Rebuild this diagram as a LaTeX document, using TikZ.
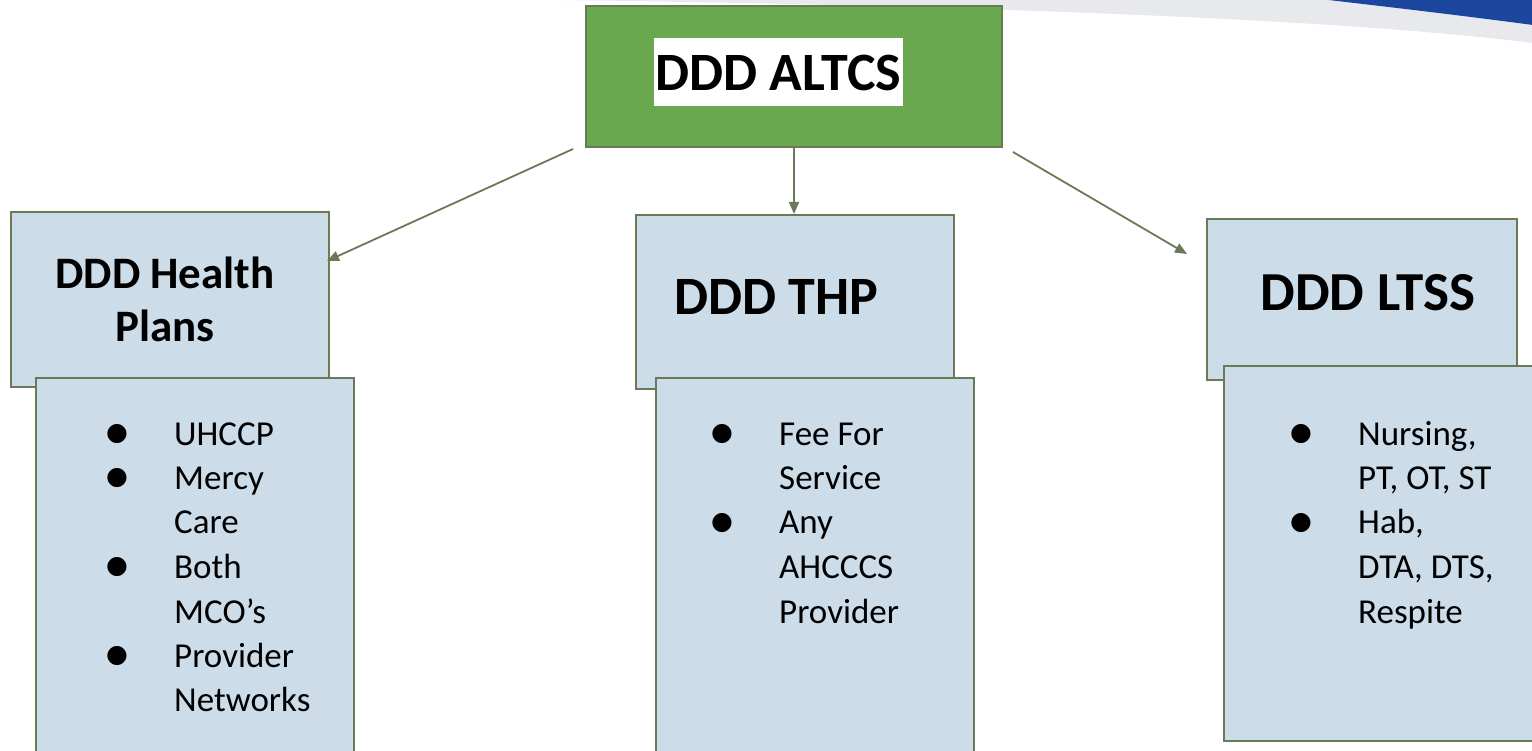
\documentclass[tikz,border=0pt]{standalone}
\usepackage{fontspec}
\setmainfont{Carlito}
\newfontfamily\dotfont{DejaVu Sans}
\usetikzlibrary{arrows.meta}

\definecolor{altcsgreen}{RGB}{106,168,79}
\definecolor{panelblue}{RGB}{204,221,233}
\definecolor{edgegreen}{RGB}{107,122,86}
\definecolor{bannerblue}{RGB}{26,70,158}
\definecolor{bannergray}{RGB}{232,233,236}

\newcommand{\itemdot}{\makebox[68pt][l]{\raisebox{5pt}{\dotfont\fontsize{25}{25}\selectfont ●}}}

\tikzset{
  panel/.style={draw=edgegreen, line width=2pt, fill=panelblue, anchor=north west, inner sep=0pt},
  link/.style={draw=edgegreen, line width=1.8pt, -{Triangle[length=12pt,width=10pt]}},
  heading/.style 2 args={font=\bfseries\fontsize{#1}{#2}\selectfont, align=center, inner sep=0pt, anchor=base},
  items/.style={font=\fontsize{35}{44.5}\selectfont, anchor=base west, inner sep=0pt},
}

\begin{document}
\begin{tikzpicture}[x=1pt,y=-1pt]
    \useasboundingbox (0,0) rectangle (1532,751);
    \clip (0,0) rectangle (1532,751);

    % banner corner, top right
    \fill[bannergray] (560,-1) -- (1533,-1) -- (1533,43) .. controls (1350,20) and (1000,6) .. (560,0) -- cycle;
    \fill[bannerblue] (1320,-1) -- (1533,-1) -- (1533,25) .. controls (1450,14) and (1380,6) .. (1320,-1) -- cycle;

    \node[panel, fill=altcsgreen, minimum width=416pt, minimum height=141pt] (altcs) at (585,5) {};
    \node[heading={54}{66}, fill=white, text height=53pt, text depth=15pt, inner xsep=2pt, anchor=center] (altcstext) at (778.5,72) {DDD ALTCS};

    \node[panel, minimum width=318pt, minimum height=175pt] (health) at (10,211) {};
    \node[panel, minimum width=318pt, minimum height=174pt] (thp) at (635,214) {};
    \node[panel, minimum width=310pt, minimum height=161pt] (ltss) at (1206,218) {};

    \node[heading={45}{54}] (healthtext) at (165,342) {DDD Health\\Plans};
    \node[heading={54}{66}] (thptext) at (776,315) {DDD THP};
    \node[heading={55}{66}] (ltsstext) at (1368,311) {DDD LTSS};

    \node[panel, minimum width=318pt, minimum height=400pt] (healthbox) at (35,377) {};
    \node[panel, minimum width=318pt, minimum height=400pt] (thpbox) at (655,377) {};
    \node[panel, minimum width=330pt, minimum height=375pt] (ltssbox) at (1223,365) {};

    \node[items] (healthlist) at (106,445) {\begin{tabular}[t]{@{}l@{}l@{}}
      \itemdot & UHCCP\\ \itemdot & Mercy\\ & Care\\ \itemdot & Both\\ & MCO’s\\ \itemdot & Provider\\ & Networks
    \end{tabular}};
    \node[items] (thplist) at (711,445) {\begin{tabular}[t]{@{}l@{}l@{}}
      \itemdot & Fee For\\ & Service\\ \itemdot & Any\\ & AHCCCS\\ & Provider
    \end{tabular}};
    \node[items] (ltsslist) at (1290,445) {\begin{tabular}[t]{@{}l@{}l@{}}
      \itemdot & Nursing,\\ & PT, OT, ST\\ \itemdot & Hab,\\ & DTA, DTS,\\ & Respite
    \end{tabular}};

    \draw[link] ([xshift=-12pt,yshift=-1pt]altcs.south west) -- ([xshift=-3pt,yshift=38.5pt]health.east);
    \draw[link] (altcs.south) -- (altcs.south |- thp.north);
    \draw[link] ([xshift=10pt,yshift=-4pt]altcs.south east) -- ([xshift=-19pt,yshift=45.5pt]ltss.west);
\end{tikzpicture}
\end{document}
